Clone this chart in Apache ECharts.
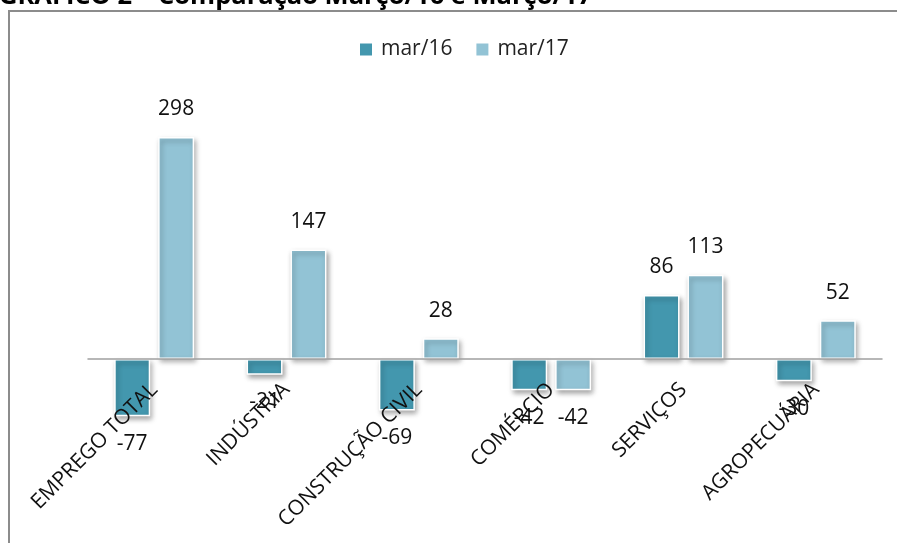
<!DOCTYPE html>
<html>
<head>
<meta charset="utf-8">
<script src="https://cdn.jsdelivr.net/npm/echarts@6/dist/echarts.min.js"></script>
<style>
html,body{margin:0;padding:0;background:#fff;}
#chart{width:897px;height:543px;}
</style>
</head>
<body>
<div id="chart"></div>
<script>
const titleText = 'GRÁFICO 2 – Comparação Março/16 e Março/17';
const categories = ['EMPREGO TOTAL','INDÚSTRIA','CONSTRUÇÃO CIVIL','COMÉRCIO','SERVIÇOS','AGROPECUÁRIA'];
const seriesNames = ['mar/16','mar/17'];
const mar16 = [-77, -21, -69, -42, 86, -30];
const mar17 = [298, 147, 28, -42, 113, 52];

const FONT = '"Open Sans", sans-serif';
const colors = ['#4397ae', '#92c3d5'];

function makeData(arr){
  return arr.map(v => ({
    value: v,
    label: { position: v < 0 ? 'bottom' : 'top' }
  }));
}

const chart = echarts.init(document.getElementById('chart'), null, {renderer:'canvas'});
chart.setOption({
  animation: false,
  backgroundColor: '#fff',
  graphic: [
    { type:'rect', shape:{x:9, y:11, width:1200, height:1200}, style:{fill:'none', stroke:'#8c8c8c', lineWidth:2}, z:-1 },
    { type:'text', x:-1, y:-16, style:{text:titleText, font:'bold 25.5px ' + FONT, fill:'#000'} }
  ],
  legend: {
    top: 34,
    left: 353,
    itemWidth: 14,
    itemHeight: 14,
    itemGap: 22,
    icon: 'rect',
    textStyle: { fontFamily: FONT, fontSize: 21, color: '#222', padding:[0,0,0,3] },
    data: seriesNames
  },
  grid: { left: 88, right: 15, top: 61, bottom: 109.5, containLabel: false, outerBoundsMode: 'none' },
  xAxis: {
    type: 'category',
    data: categories,
    axisLine: { onZero: true, lineStyle: { color: '#a0a0a0', width: 1.5 } },
    axisTick: { show: false },
    axisLabel: {
      rotate: 45,
      interval: 0,
      margin: -47,
      fontFamily: FONT,
      fontSize: 21,
      color: '#111'
    },
    z: 5
  },
  yAxis: {
    type: 'value',
    min: -100,
    max: 400,
    show: false,
    splitLine: { show: false }
  },
  series: [mar16, mar17].map((arr, i) => ({
    name: seriesNames[i],
    type: 'bar',
    data: makeData(arr),
    barWidth: 36,
    barGap: '22%',
    itemStyle: {
      color: colors[i],
      borderColor: '#fff',
      borderWidth: 1.5,
      shadowBlur: 5,
      shadowColor: 'rgba(0,0,0,0.35)',
      shadowOffsetX: 2,
      shadowOffsetY: 3
    },
    label: {
      show: true,
      distance: 17,
      fontFamily: FONT,
      fontSize: 21,
      color: '#111'
    }
  }))
});
</script>
</body>
</html>
